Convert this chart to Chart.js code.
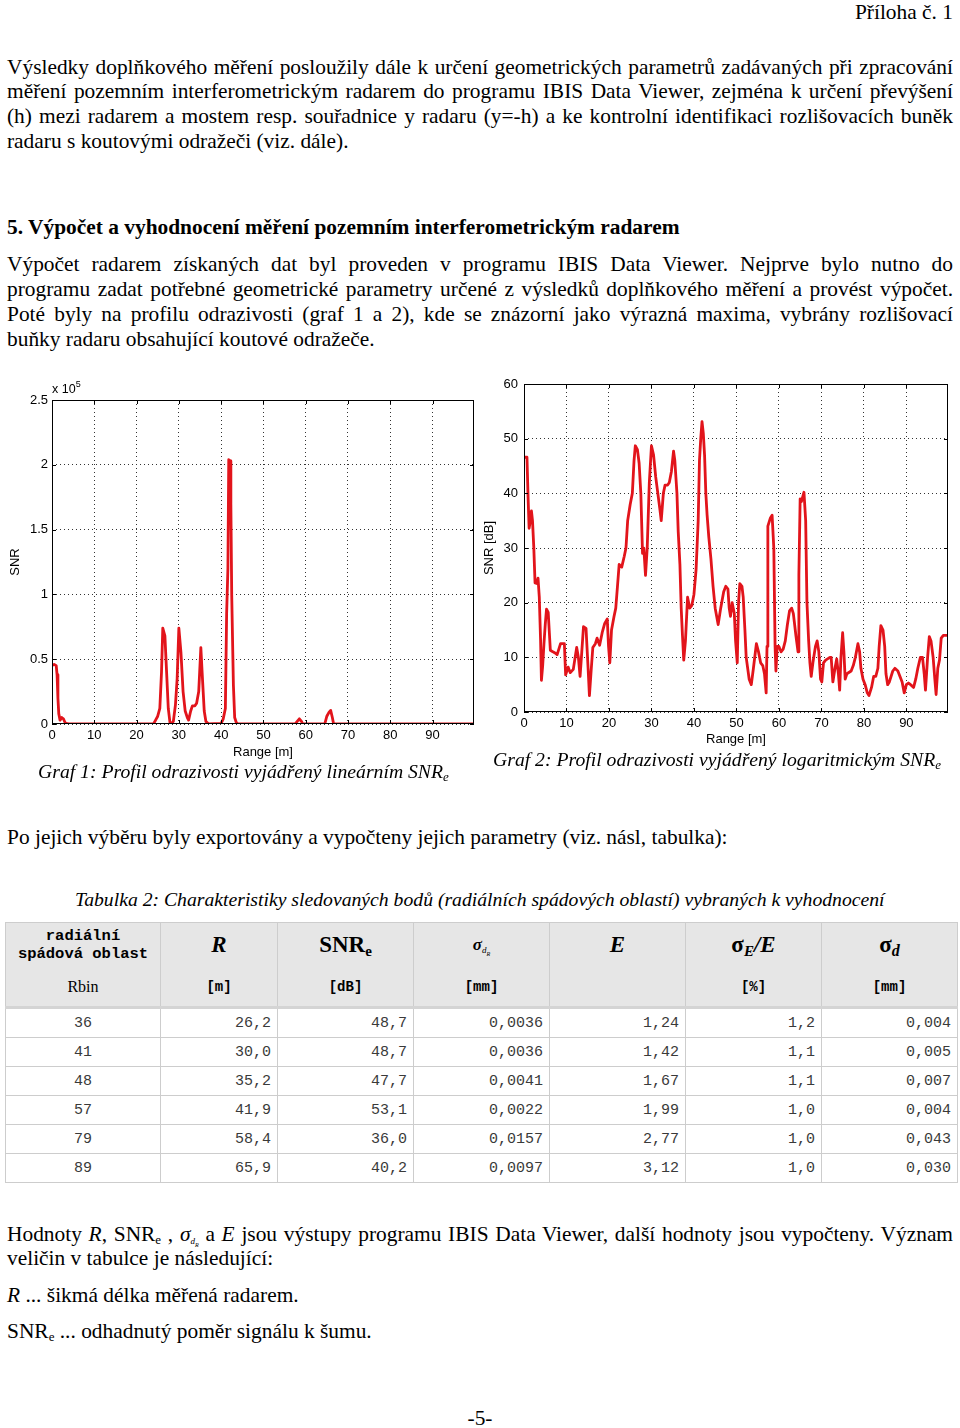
<!DOCTYPE html>
<html lang="cs">
<head>
<meta charset="utf-8">
<script src="https://cdn.jsdelivr.net/npm/chart.js@4.4.1/dist/chart.umd.min.js"></script>
<style>
  html,body{margin:0;padding:0;background:#fff;}
  body{width:960px;height:1428px;position:relative;overflow:hidden;font-family:"Liberation Serif","Times New Roman",serif;color:#000;}
  .t{position:absolute;font-size:21.4px;line-height:25px;white-space:nowrap;}
  .j{position:absolute;left:7px;width:946px;font-size:21.4px;line-height:25px;text-align:justify;text-align-last:justify;white-space:normal;}
  .cap{position:absolute;font-style:italic;font-size:19.7px;line-height:25px;white-space:nowrap;}
  sub.s{font-size:13px;vertical-align:-3px;line-height:0;}
  canvas{position:absolute;}
  .exp{position:absolute;font-family:"Liberation Sans",Arial,sans-serif;font-size:12.5px;line-height:14px;white-space:nowrap;}
  table{position:absolute;left:5px;top:922px;border-collapse:collapse;table-layout:fixed;width:952px;}
  th{background:#e6e6e6;border:1px solid #cdcdcd;border-bottom:3px solid #d4d4d4;padding:0;height:83px;vertical-align:top;font-weight:normal;}
  th .a{height:44px;display:flex;align-items:center;justify-content:center;}
  th .b{height:39px;display:flex;align-items:center;justify-content:center;font-family:"Liberation Mono",monospace;font-weight:bold;font-size:14px;}
  td{border:1px solid #cdcdcd;height:28px;padding:0 6px 0 0;font-family:"Liberation Mono",monospace;font-size:15px;color:#3a3a3a;text-align:right;}
  td.c{text-align:center;padding:0;}
  .sym{font-weight:bold;font-size:23px;}
</style>
</head>
<body>
<div class="t" style="right:7px;top:0px;">Příloha č. 1</div>

<div class="j" style="top:55px;">Výsledky doplňkového měření posloužily dále k určení geometrických parametrů zadávaných při zpracování</div>
<div class="j" style="top:79px;">měření pozemním interferometrickým radarem do programu IBIS Data Viewer, zejména k určení převýšení</div>
<div class="j" style="top:104px;">(h) mezi radarem a mostem resp. souřadnice y radaru (y=-h) a ke kontrolní identifikaci rozlišovacích buněk</div>
<div class="t" style="left:7px;top:129px;">radaru s koutovými odražeči (viz. dále).</div>

<div class="t" style="left:7px;top:215px;font-weight:bold;">5. Výpočet a vyhodnocení měření pozemním interferometrickým radarem</div>

<div class="j" style="top:252px;">Výpočet radarem získaných dat byl proveden v programu IBIS Data Viewer. Nejprve bylo nutno do</div>
<div class="j" style="top:277px;">programu zadat potřebné geometrické parametry určené z výsledků doplňkového měření a provést výpočet.</div>
<div class="j" style="top:302px;">Poté byly na profilu odrazivosti (graf 1 a 2), kde se znázorní jako výrazná maxima, vybrány rozlišovací</div>
<div class="t" style="left:7px;top:327px;">buňky radaru obsahující koutové odražeče.</div>

<canvas id="c1" width="480" height="380" style="left:0px;top:380px;"></canvas>
<div class="exp" style="left:52px;top:382px;">x 10<sup style="font-size:9px;vertical-align:6px;line-height:0;">5</sup></div>
<canvas id="c2" width="480" height="380" style="left:480px;top:370px;"></canvas>

<div class="cap" style="left:38px;top:759px;">Graf 1: Profil odrazivosti vyjádřený lineárním SNR<sub class="s">e</sub></div>
<div class="cap" style="left:493px;top:747px;">Graf 2: Profil odrazivosti vyjádřený logaritmickým SNR<sub class="s">e</sub></div>

<div class="t" style="left:7px;top:825px;">Po jejich výběru byly exportovány a vypočteny jejich parametry (viz. násl, tabulka):</div>

<div class="cap" style="left:75px;top:887px;">Tabulka 2: Charakteristiky sledovaných bodů (radiálních spádových oblastí) vybraných k vyhodnocení</div>

<table id="tab">
  <colgroup>
    <col style="width:155px"><col style="width:117px"><col style="width:136px"><col style="width:136px"><col style="width:136px"><col style="width:136px"><col style="width:136px">
  </colgroup>
  <thead>
    <tr>
      <th><div class="a" style="font-family:'Liberation Mono',monospace;font-weight:bold;font-size:15.5px;line-height:18px;text-align:center;">radiální<br>spádová oblast</div><div class="b" style="font-family:'Liberation Serif',serif;font-weight:normal;font-size:16px;">Rbin</div></th>
      <th><div class="a"><span class="sym"><i>R</i></span></div><div class="b">[m]</div></th>
      <th><div class="a"><span class="sym">SNR<sub style="font-size:15px;vertical-align:-4px;line-height:0;">e</sub></span></div><div class="b">[dB]</div></th>
      <th><div class="a"><span style="font-weight:bold;font-style:italic;font-size:17px;">σ<sub style="font-size:9px;font-weight:normal;vertical-align:-3px;line-height:0;">d<sub style="font-size:6px;line-height:0;">R</sub></sub></span></div><div class="b">[mm]</div></th>
      <th><div class="a"><span class="sym"><i>E</i></span></div><div class="b"></div></th>
      <th><div class="a"><span class="sym">σ<sub style="font-size:15px;vertical-align:-4px;line-height:0;"><i>E</i></sub><i>/E</i></span></div><div class="b">[%]</div></th>
      <th><div class="a"><span class="sym">σ<sub style="font-size:16px;vertical-align:-4px;line-height:0;"><i>d</i></sub></span></div><div class="b">[mm]</div></th>
    </tr>
  </thead>
  <tbody id="tb"></tbody>
</table>

<div class="j" style="top:1222px;">Hodnoty <i>R</i>, SNR<sub class="s">e</sub> , <i>σ</i><sub style="font-size:9px;vertical-align:-3px;line-height:0;"><i>d<sub style="font-size:6px;line-height:0;">R</sub></i></sub> a <i>E</i> jsou výstupy programu IBIS Data Viewer, další hodnoty jsou vypočteny. Význam</div>
<div class="t" style="left:7px;top:1246px;">veličin v tabulce je následující:</div>
<div class="t" style="left:7px;top:1283px;"><i>R</i> ... šikmá délka měřená radarem.</div>
<div class="t" style="left:7px;top:1319px;">SNR<sub class="s">e</sub> ... odhadnutý poměr signálu k šumu.</div>
<div class="t" style="left:0;width:960px;text-align:center;top:1406px;">-5-</div>

<script>
// ---------- DATA ----------
// Graf 1: linear SNR (in units of 10^5) vs range [m]
const range1 = [0,0.5,1.0,1.2,1.4,1.6,1.9,2.3,2.7,3.1,3.6,4,24,24.5,25,25.5,25.9,26.2,26.7,27.1,27.5,27.9,28.3,28.7,29.2,29.6,30.0,30.5,31.0,31.5,32.0,32.3,32.8,33.2,33.8,34.2,34.7,35.2,35.5,36.0,36.4,37.0,40.0,40.5,41.0,41.3,41.6,41.8,42.1,42.3,42.5,42.9,43.2,43.6,44,57.5,58.0,58.5,59.0,59.3,64.5,65.0,65.5,65.9,66.3,66.6,99.8];
const snrLin = [0.45,0.46,0.45,0.38,0.2,0.08,0.03,0.05,0.04,0.01,0.002,0,0,0.03,0.06,0.12,0.4,0.74,0.68,0.4,0.12,0.01,0.005,0.02,0.15,0.35,0.74,0.55,0.25,0.1,0.05,0.03,0.1,0.14,0.14,0.16,0.25,0.59,0.4,0.1,0.02,0.001,0.005,0.04,0.12,0.85,1.2,2.04,2.03,1.7,1.0,0.3,0.05,0.01,0,0,0.02,0.04,0.02,0,0,0.06,0.09,0.105,0.05,0,0];

// Graf 2: logarithmic SNR [dB] vs range [m]
const range2 = [0,0.7,0.95,1.2,1.5,1.75,2.0,2.3,2.6,3.0,3.3,3.6,3.9,4.1,4.4,4.7,5.0,5.3,5.7,6.2,6.8,7.3,7.8,8.6,9.5,9.8,10.4,10.9,11.6,12.4,12.8,13.2,13.6,14.0,14.6,15.1,15.4,15.8,16.2,16.8,17.2,17.8,18.4,19.0,19.6,19.9,20.2,20.6,21.2,21.6,22.0,22.4,23.0,23.6,24.0,24.4,25.0,25.5,25.9,26.2,26.7,27.1,27.5,27.9,28.2,28.6,29.0,29.5,30.0,30.5,31.0,31.5,32.0,32.3,32.8,33.2,33.8,34.2,34.7,35.2,35.5,36.0,36.3,36.7,37.0,37.3,37.6,38.0,38.5,39.0,39.5,40.0,40.5,41.0,41.3,41.6,41.9,42.2,42.5,42.8,43.1,43.5,44.0,44.5,45.0,45.7,46.3,47.0,47.5,48.0,48.3,48.6,49.0,49.5,49.8,50.2,50.5,50.8,51.3,51.6,52.0,52.3,53.0,53.5,54.0,54.7,55.2,55.7,56.2,56.6,57.0,57.2,57.4,58.0,58.4,58.8,59.1,59.3,59.6,60.0,60.5,61.0,61.5,62.0,62.5,63.0,63.4,64.0,64.5,64.7,65.0,65.3,65.9,66.3,66.6,67.0,67.3,67.6,68.0,68.6,69.0,69.4,69.8,70.1,70.5,71.0,72.0,72.3,72.7,73.2,73.6,74.0,74.3,74.6,75.0,75.3,75.6,76.0,77.0,77.5,78.0,78.6,79.0,79.3,79.8,80.3,80.8,81.2,81.8,82.3,82.8,83.3,83.6,84.0,84.5,84.9,85.2,85.6,86.0,86.8,87.3,88.0,88.5,89.0,89.5,90.0,90.5,91.0,91.7,92.2,92.7,93.3,93.8,94.2,94.5,95.0,95.4,95.8,96.3,96.7,97.0,97.4,97.8,98.2,98.7,99.8];
const snrDb = [46.6,46.6,39.5,33.6,35,36.8,35,30.2,23.6,23.5,24.5,21,13.2,5.8,8.5,12.5,16,18.8,18.2,11.3,11,10.8,10.5,12.5,12.5,6.8,8.2,7.2,7.8,11.8,10,6.5,11,15.6,15.3,7.8,3,7.5,11.8,12.5,13.5,12.2,14.5,16.2,17,12,9,15,17.5,19,23,27,26.5,28.5,30,35,38,40,46,48.7,48,45.5,40,29,30,25,30,42,48.7,47,43,40,37,35,40,41.5,41.5,42,44,47.7,46,40,33,27,19,14,9.5,13,21,19,19.5,21.5,26,35,46,50,53.1,51,47,40,36,32,28,23,19,16,19,22,23,22.5,19,17.5,20,18,13,9,20,23.5,23,21,15,10,6,5,8,12.5,11,9,8.5,7,3.5,12,34,35.5,36,30,12,7.5,12,12,11,11.5,13,16,18.5,19,18,14,11,25,39,38.5,40.2,35,20,13,9,6.5,9,12,13,11,6,5.5,9,9.5,10,10,5.5,8,9.7,7,4,10,14.5,11,6,7,7.5,8.5,10,12.5,11,8,6,5,3.5,3,4.5,6.5,6.5,8,12,15.8,15,12,7,5,5.5,7.5,8,7.5,6.5,5.5,3.5,5,5.3,5,4.5,6,8,10,10,7,4,10,13.8,13,10,6,3.2,8,9.5,13.5,14,14];

// Tick values
const xTicks = [0,10,20,30,40,50,60,70,80,90];
const yTicks1 = [0,0.5,1,1.5,2,2.5];
const yTicks2 = [0,10,20,30,40,50,60];

// Table 2
const rbin   = [36,41,48,57,79,89];
const rVal   = [26.2,30.0,35.2,41.9,58.4,65.9];
const snrE   = [48.7,48.7,47.7,53.1,36.0,40.2];
const sigDR  = [0.0036,0.0036,0.0041,0.0022,0.0157,0.0097];
const eVal   = [1.24,1.42,1.67,1.99,2.77,3.12];
const sigEE  = [1.2,1.1,1.1,1.0,1.0,1.0];
const sigD   = [0.004,0.005,0.007,0.004,0.043,0.030];

// ---------- TABLE ----------
const fmt = (v,d)=>v.toFixed(d).replace('.',',');
const tb = document.getElementById('tb');
rbin.forEach((b,i)=>{
  const tr = document.createElement('tr');
  const cells = [[String(b),'c'],[fmt(rVal[i],1)],[fmt(snrE[i],1)],[fmt(sigDR[i],4)],[fmt(eVal[i],2)],[fmt(sigEE[i],1)],[fmt(sigD[i],3)]];
  cells.forEach(([t,c])=>{const td=document.createElement('td'); td.textContent=t; if(c) td.className=c; tr.appendChild(td);});
  tb.appendChild(tr);
});

// ---------- CHARTS ----------
const tickFont = {family:'"Liberation Sans", Arial, sans-serif', size:13};
const lineColor = '#e2141b';

const framePlugin = {
  id:'frame',
  afterDraw(chart){
    const {ctx, chartArea:a} = chart;
    ctx.save();
    ctx.strokeStyle = '#000';
    ctx.lineWidth = 1;
    ctx.strokeRect(Math.round(a.left)+0.5, Math.round(a.top)+0.5, Math.round(a.right-a.left)-1, Math.round(a.bottom-a.top)-1);
    const xs = chart.scales.x, ys = chart.scales.y;
    ctx.beginPath();
    xTicks.forEach(v=>{const p=Math.round(xs.getPixelForValue(v))+0.5; ctx.moveTo(p,a.bottom); ctx.lineTo(p,a.bottom-4); ctx.moveTo(p,a.top); ctx.lineTo(p,a.top+4);});
    ys.ticks.forEach(t=>{const p=Math.round(ys.getPixelForValue(t.value))+0.5; ctx.moveTo(a.left,p); ctx.lineTo(a.left+4,p); ctx.moveTo(a.right,p); ctx.lineTo(a.right-4,p);});
    ctx.stroke();
    ctx.restore();
  }
};

function makeChart(id, xs, ys, opt){
  return new Chart(document.getElementById(id), {
    type:'line',
    data:{datasets:[{data: xs.map((x,i)=>({x, y: ys[i]})), borderColor: lineColor, borderWidth: 2.8, pointRadius: 0, tension: 0, fill: false, borderJoinStyle:'round'}]},
    options:{
      responsive:false, animation:false, events:[],
      layout:{padding: opt.padding},
      plugins:{legend:{display:false}, tooltip:{enabled:false}},
      scales:{
        x:{type:'linear', min:0, max:opt.xMax,
           afterBuildTicks: s=>{ s.ticks = xTicks.map(v=>({value:v})); },
           afterFit: s=>{ s.height = opt.xH; },
           ticks:{font:tickFont, color:'#000', maxRotation:0, autoSkip:false, padding:opt.xTickPad, callback:v=>String(v)},
           grid:{color:'#333', lineWidth:1, drawTicks:false},
           border:{display:false, dash:[1,3]},
           title:{display:true, text:'Range [m]', font:tickFont, color:'#000', padding:{top:0,bottom:opt.xTitlePad}}
        },
        y:{type:'linear', min:0, max:opt.yMax,
           afterBuildTicks: s=>{ s.ticks = opt.yTicks.map(v=>({value:v})); },
           afterFit: s=>{ s.width = opt.yW; },
           ticks:{font:tickFont, color:'#000', padding:opt.yTickPad, callback:v=>String(v)},
           grid:{color:'#333', lineWidth:1, drawTicks:false},
           border:{display:false, dash:[1,3]},
           title:{display:true, text:opt.yTitle, font:tickFont, color:'#000', padding:{top:opt.yTitlePad,bottom:0}}
        }
      }
    },
    plugins:[framePlugin]
  });
}

makeChart('c1', range1, snrLin, {
  padding:{left:0,right:6,top:20,bottom:0}, xMax:99.8, yMax:2.5, yTicks:yTicks1,
  xH:36, yW:52, xTickPad:4, xTitlePad:0, yTickPad:4, yTitle:'SNR', yTitlePad:8
});
makeChart('c2', range2, snrDb, {
  padding:{left:0,right:12,top:14,bottom:0}, xMax:99.8, yMax:60, yTicks:yTicks2,
  xH:38, yW:44, xTickPad:4, xTitlePad:3, yTickPad:6, yTitle:'SNR [dB]', yTitlePad:2
});
</script>
</body>
</html>
